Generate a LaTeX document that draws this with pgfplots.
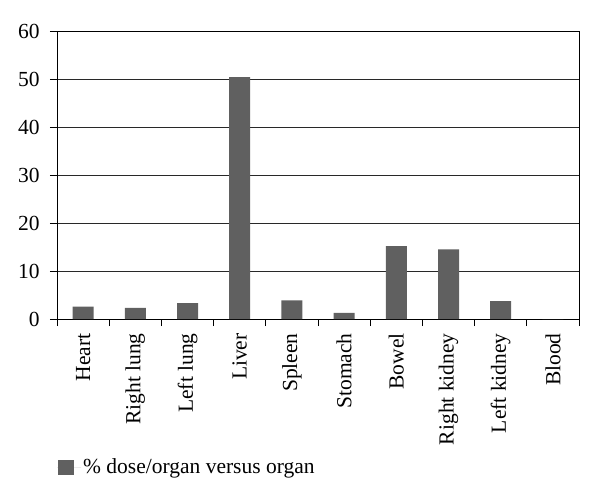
\documentclass[border=0pt]{standalone}
\usepackage{fontspec}
\setmainfont{Liberation Serif}
\usepackage{pgfplots}
\pgfplotsset{compat=1.18}
\definecolor{barfill}{RGB}{96,96,96}
\definecolor{gridc}{RGB}{40,40,40}
\newcommand{\lbl}{\fontsize{21.5bp}{25bp}\selectfont}
\begin{document}
\lbl
\begin{tikzpicture}
\useasboundingbox (-57bp,-185bp) rectangle (543bp,319bp);
\begin{axis}[
  at={(0,0)}, anchor=south west,
  scale only axis,
  width=522bp, height=288bp,
  xmin=-0.5, xmax=9.5,
  ymin=0, ymax=60,
  ytick={0,10,...,60},
  ymajorgrids,
  grid style={gridc, line width=0.8bp},
  axis line style={black, line width=0.9bp},
  xtick={0,...,9},
  xticklabels={Heart,Right lung,Left lung,Liver,Spleen,Stomach,Bowel,Right kidney,Left kidney,Blood},
  minor xtick={-0.5,0.5,...,9.5},
  major tick length=7bp,
  minor tick length=7bp,
  x tick style={draw=none},
  minor x tick style={draw=black, line width=0.9bp},
  y tick style={black, line width=0.9bp},
  tick align=outside,
  tick pos=left,
  xticklabel style={rotate=90, anchor=east, font=\lbl},
  yticklabel style={font=\lbl, xshift=-3bp},
  /pgf/number format/assume math mode=true,
  legend style={at={(0,-0.515)}, anchor=west, draw=none, fill=none,
    font=\lbl, inner xsep=0pt},
  legend image code/.code={\fill[barfill] (1bp,-7.5bp) rectangle (17bp,7.5bp); \path (0bp,0bp) -- (24bp,0bp);},
  legend cell align=left,
]
\addplot[ybar, bar width=21bp, fill=barfill, draw=none] coordinates {
  (0,2.6) (1,2.3) (2,3.3) (3,50.4) (4,3.9) (5,1.3) (6,15.2) (7,14.5) (8,3.7) (9,0)
};
\addlegendentry{\% dose/organ versus organ}
\end{axis}
\end{tikzpicture}
\end{document}
